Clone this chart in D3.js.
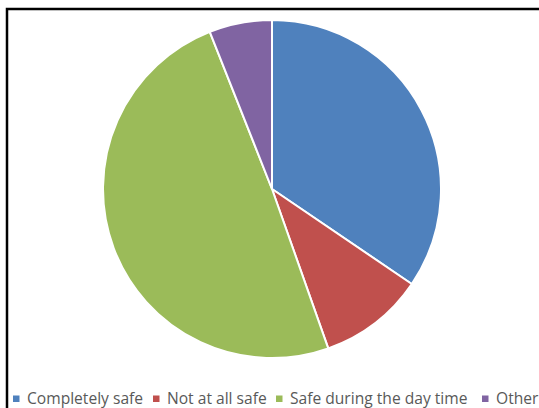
<!DOCTYPE html>
<html>
<head>
<meta charset="utf-8">
<script src="https://cdn.jsdelivr.net/npm/d3@7"></script>
<style>
  html, body { margin: 0; padding: 0; background: #fff; }
  svg { display: block; }
</style>
</head>
<body>
<svg id="chart" width="539" height="408"></svg>
<script>
// Share of respondents by how safe they feel (percent)
const categories = ["Completely safe", "Not at all safe", "Safe during the day time", "Other"];
const values = [34.5, 10.1, 49.4, 6.0];
const colors = ["#4F81BD", "#C0504D", "#9BBB59", "#8064A2"];

const svg = d3.select("#chart");
const W = 539, H = 408;

// Frame around the chart area (top and left edges visible)
svg.append("path")
  .attr("d", `M7,${H} V9 H${W}`)
  .attr("fill", "none")
  .attr("stroke", "#000")
  .attr("stroke-width", 2.5);

const cx = 272, cy = 189, r = 169;

const pie = d3.pie().sort(null).value(d => d.value);
const arc = d3.arc().innerRadius(0).outerRadius(r);
const data = categories.map((c, i) => ({ name: c, value: values[i], color: colors[i] }));

svg.append("g")
  .attr("transform", `translate(${cx},${cy})`)
  .selectAll("path")
  .data(pie(data))
  .join("path")
  .attr("d", arc)
  .attr("fill", d => d.data.color)
  .attr("stroke", "#fff")
  .attr("stroke-width", 2)
  .attr("stroke-linejoin", "round");

// Legend along the bottom edge
const legendX = [13, 153, 276, 482];
const legend = svg.append("g").attr("font-family", "'Open Sans', sans-serif").attr("font-size", 15.6);
data.forEach((d, i) => {
  const g = legend.append("g").attr("transform", `translate(${legendX[i]},0)`);
  g.append("rect").attr("x", 0).attr("y", 395.5).attr("width", 6.5).attr("height", 6.5).attr("fill", d.color);
  g.append("text").attr("x", 14).attr("y", 403.5).attr("fill", "#595959").text(d.name);
});
</script>
</body>
</html>
